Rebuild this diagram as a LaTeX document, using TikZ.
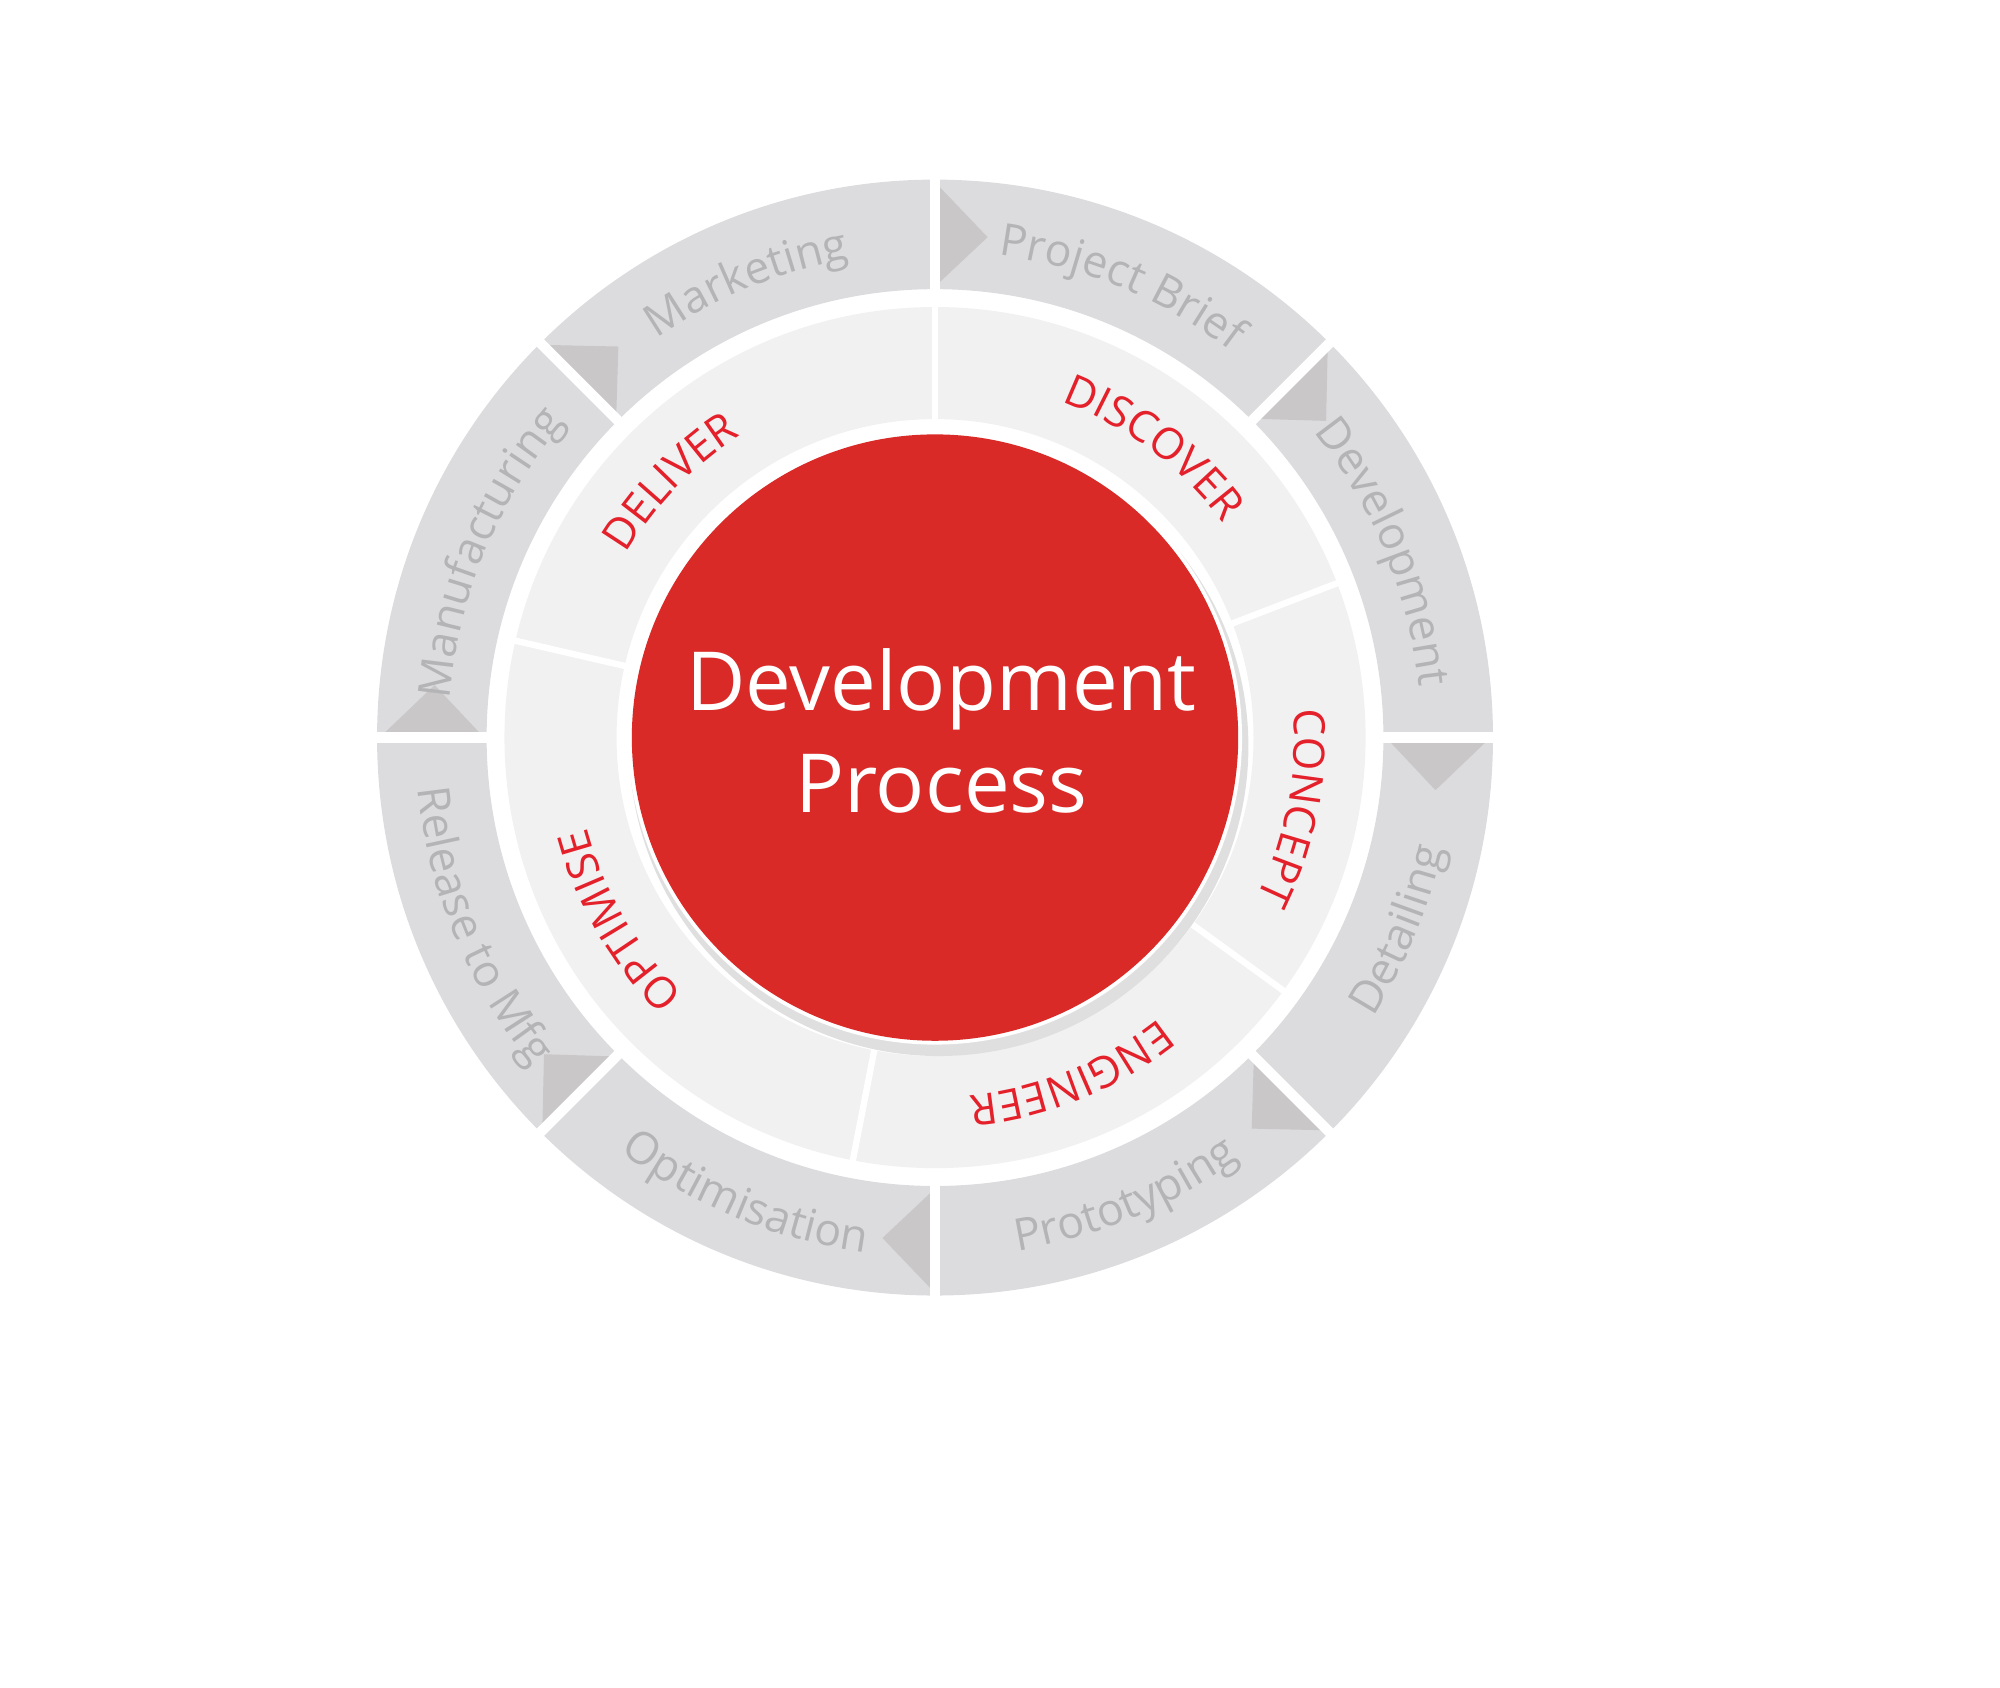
\documentclass[tikz,border=0pt]{standalone}
\usepackage{fontspec}
\setmainfont{Open Sans}
\usetikzlibrary{decorations.text}
\definecolor{outerg}{HTML}{DCDCDE}
\definecolor{tabg}{HTML}{C9C7C8}
\definecolor{midg}{HTML}{F1F1F2}
\definecolor{labg}{HTML}{B4B4B6}
\definecolor{redc}{HTML}{D92A27}
\definecolor{redt}{HTML}{E4202A}
\newcommand{\cwtext}[4]{% angle, radius, colorfont, text
  \path[postaction={decorate,decoration={text along path,text align=center,
     text={|#3|#4}}}] ({#1+45}:#2) arc[start angle={#1+45},end angle={#1-45},radius=#2];}
\newcommand{\ccwtext}[4]{%
  \path[postaction={decorate,decoration={text along path,text align=center,
     text={|#3|#4}}}] ({#1-45}:#2) arc[start angle={#1-45},end angle={#1+45},radius=#2];}
\begin{document}
\begin{tikzpicture}[x=1pt,y=1pt]
\useasboundingbox (-734,-746) rectangle (836,579);
% outer ring
\fill[outerg,even odd rule] (0,0) circle (438) (0,0) circle (352);
\foreach \b in {0,45,...,315}{
  \fill[tabg] (\b:354) -- (\b:436) -- ({\b-6}:395) -- cycle;
  \draw[white,line width=8pt] (\b:345) -- (\b:445);
}
% middle ring
\fill[midg,even odd rule] (0,0) circle (338) (0,0) circle (250);
\foreach \b in {90,21,-36,-101,167}{
  \draw[white,line width=5pt] (\b:245) -- (\b:342);
}
% red circle
\fill[gray!25] (3,-7) circle (243);
\fill[white] (0,0) circle (241);
\fill[redc] (0,0) circle (238);
\node[white,align=center,font=\fontsize{64}{80}\selectfont] (title) at (5,5) {Development\\Process};
% outer labels
\cwtext{112.5}{382}{\color{labg}\fontsize{35}{40}\selectfont}{Marketing}
\cwtext{67.5}{382}{\color{labg}\fontsize{35}{40}\selectfont}{Project Brief}
\cwtext{22.5}{382}{\color{labg}\fontsize{35}{40}\selectfont}{Development}
\cwtext{157.5}{382}{\color{labg}\fontsize{35}{40}\selectfont}{Manufacturing}
\ccwtext{-22.5}{408}{\color{labg}\fontsize{35}{40}\selectfont}{Detailing}
\ccwtext{-67.5}{408}{\color{labg}\fontsize{35}{40}\selectfont}{Prototyping}
\ccwtext{-112.5}{408}{\color{labg}\fontsize{35}{40}\selectfont}{Optimisation}
\ccwtext{-157.5}{408}{\color{labg}\fontsize{35}{40}\selectfont}{Release to Mfg}
% inner labels
\cwtext{136}{282}{\color{redt}\fontsize{34}{40}\selectfont}{DELIVER}
\cwtext{53}{282}{\color{redt}\fontsize{34}{40}\selectfont}{DISCOVER}
\cwtext{-11}{282}{\color{redt}\fontsize{34}{40}\selectfont}{CONCEPT}
\cwtext{-68}{282}{\color{redt}\fontsize{34}{40}\selectfont}{ENGINEER}
\cwtext{210}{282}{\color{redt}\fontsize{34}{40}\selectfont}{OPTIMISE}
\end{tikzpicture}
\end{document}
